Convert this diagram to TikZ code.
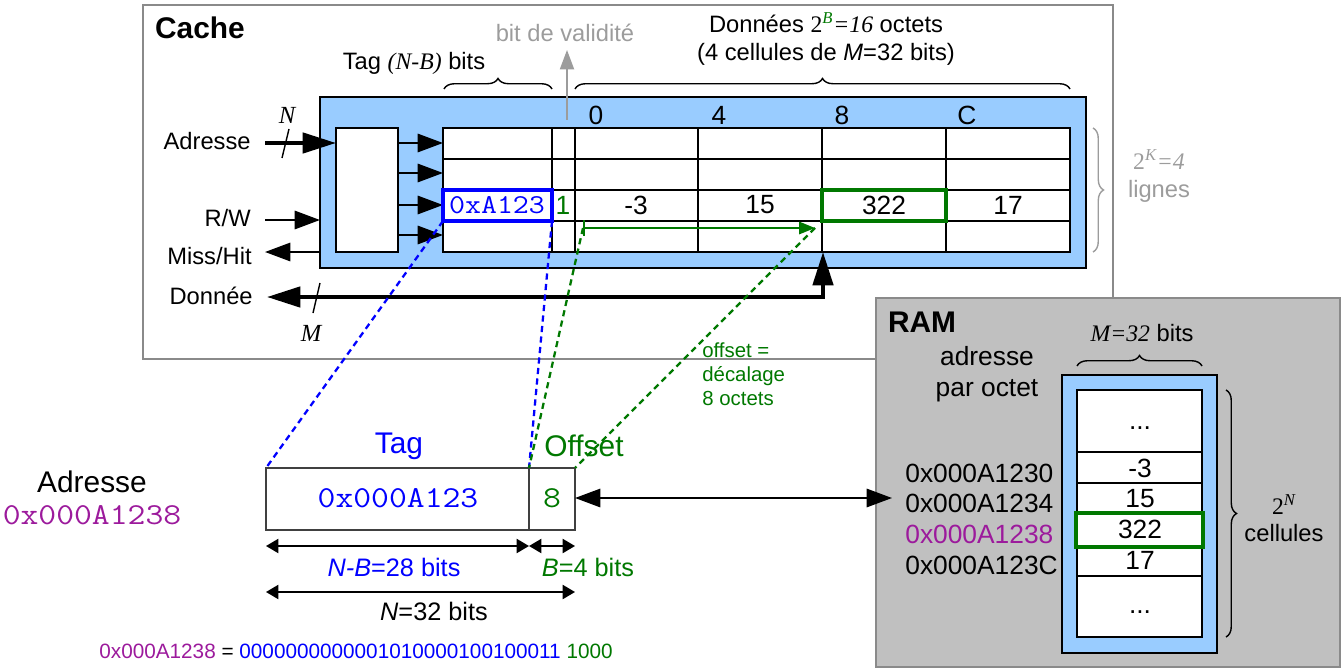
\documentclass[tikz,border=0pt]{standalone}
\usepackage{fontspec}
\setmainfont{Liberation Sans}
\setmonofont{Latin Modern Mono}[FakeStretch=1.14]
\newfontfamily\timesfont{Liberation Serif}
\usetikzlibrary{arrows.meta, positioning, decorations.pathreplacing}
\definecolor{cacheblue}{HTML}{99CCFF}
\definecolor{ramgray}{HTML}{C0C0C0}
\definecolor{framegray}{HTML}{8A8A8A}
\definecolor{softgray}{HTML}{9C9C9C}
\definecolor{offgreen}{HTML}{007800}
\definecolor{tagblue}{HTML}{0000FF}
\definecolor{addrpurple}{HTML}{9C1A9C}
\newcommand{\fs}[2]{\fontsize{#1}{#2}\selectfont}
\newcommand{\vi}[1]{{\timesfont\itshape #1}}
\newcommand{\etc}{...}
\tikzset{
  sigtip/.tip={Triangle[length=14.5pt,width=10.5pt]},
  bustip/.tip={Triangle[length=19pt,width=11.5pt]},
  dimtip/.tip={Triangle[length=7pt,width=8pt]},
}

\begin{document}
\begin{tikzpicture}[x=0.02cm, y=-0.02cm]
\tikzstyle{lbl} = [inner sep=0pt, font=\fs{13.5}{15.5}]
\tikzstyle{val} = [inner sep=0pt, font=\fs{15}{17}]
\tikzstyle{big} = [inner sep=0pt, font=\fs{17}{20}]
\tikzstyle{ramtxt} = [inner sep=0pt, font=\fs{15}{17.6}]
\tikzstyle{heading} = [inner sep=0pt, font=\bfseries\fs{17}{20}]
\tikzstyle{hexa} = [inner sep=0pt, font=\ttfamily\fs{17.3}{20}]
\tikzstyle{sig} = [line width=1.1pt]
\tikzstyle{bus} = [line width=2.3pt]
\tikzstyle{dimline} = [dimtip-dimtip, line width=1pt]
\tikzstyle{cell} = [line width=0.6pt]
\tikzstyle{link} = [dash pattern=on 3.5pt off 2.5pt, line width=1.3pt]
\tikzstyle{curly} = [decorate, decoration={brace, amplitude=6pt}, line width=0.8pt]
\useasboundingbox (0,0) rectangle (1342,669);

% cache
\draw[framegray, line width=1.3pt] (143,5) rectangle (1113,359);
\node (cachetitle) [heading] at (200,28) {Cache};
\draw[cell, fill=cacheblue] (320,97) rectangle (1086,268);
\draw[cell, fill=white] (336,128) rectangle (398,252);
\draw[cell, fill=white] (443,128) rectangle (1070,252);
\foreach \y in {159,190,221} \draw[cell] (443,\y) -- (1070,\y);
\foreach \x in {552,575,698,822,946} \draw[cell] (\x,128) -- (\x,252);
\foreach \y [count=\i] in {143,173,205,235} {
  \coordinate (dec\i) at (398,\y);
  \coordinate (row\i) at (443,\y);
  \draw[sig, -sigtip] (dec\i) -- (row\i);
}
\foreach \x/\t [count=\i] in {596/0,719/4,842/8,967/C} \node (col\i) [val] at (\x,115) {\t};

% ligne 3
\node (tagval) [hexa, font=\ttfamily\fs{15.5}{17}, text=tagblue] at (497,205) {0xA123};
\draw[tagblue, line width=2.3pt] (443,190) rectangle (552,221);
\node (vbit) [val, text=offgreen] at (563,205) {1};
\foreach \x/\t [count=\i] in {636/-3,760/15,884/322,1008/17} \node (w\i) [val] at (\x,205) {\t};
\draw[offgreen, line width=2.3pt] (822,190) rectangle (946,221);
\coordinate (offA) at (583,228);
\coordinate (offB) at (815,228);
\draw[offgreen, line width=1.1pt, {Bar[width=9pt]}-{Triangle[length=9pt,width=7pt]}] (offA) -- (offB);

% signaux
\node (adr) [lbl, anchor=east] at (251,141) {Adresse};
\node (rw) [lbl, anchor=east] at (251,218) {R/W};
\node (mh) [lbl, anchor=east] at (252,256) {Miss/Hit};
\node (don) [lbl, anchor=east] at (253,296) {Donnée};
\coordinate (adrA) at (265,143);
\coordinate (adrB) at (336,143);
\draw[bus, -bustip] (adrA) -- (adrB);
\draw[line width=0.8pt] (282,158) -- (289,129);
\node (nwidth) [inner sep=0pt, font=\timesfont\itshape\fs{14}{16}] at (287,115) {N};
\coordinate (rwA) at (265,220);
\coordinate (rwB) at (320,220);
\draw[sig, -sigtip] (rwA) -- (rwB);
\coordinate (mhA) at (320,252);
\coordinate (mhB) at (265,252);
\draw[sig, -sigtip] (mhA) -- (mhB);
\coordinate (donA) at (267,297);
\coordinate (donC) at (823,297);
\coordinate (donT) at (823,252);
\draw[bus, bustip-bustip] (donA) -- (donC) -- (donT);
\draw[line width=0.8pt] (313,313) -- (320,283);
\node (mwidth) [inner sep=0pt, font=\timesfont\itshape\fs{14}{16}] at (311,333) {M};

% accolades et legendes
\coordinate (vA) at (567,120);
\coordinate (vB) at (567,50);
\draw[softgray, line width=1pt, -{Triangle[length=11pt,width=8pt]}] (vA) -- (vB);
\node (valid) [lbl, text=softgray] at (565,33) {bit de validité};
\draw[curly] (444,89) -- (552,89);
\node (taglbl) [lbl] at (414,63) {Tag \vi{(N-B)} bits};
\draw[curly] (575,89) -- (1070,89);
\node (datalbl) [lbl, align=center] at (826,39) {Données {\timesfont 2\textsuperscript{\color{offgreen}\itshape B}\itshape =16} octets\\(4 cellules de \textit{M}=32 bits)};
\draw[curly, softgray] (1093,128) -- (1093,252);
\node (lines) [lbl, align=center, text=softgray] at (1159,176) {{\timesfont 2\textsuperscript{\itshape K}\itshape =4}\\lignes};

% RAM
\draw[framegray, fill=ramgray, line width=1.3pt] (876,298) rectangle (1340,667);
\node (ramtitle) [heading] at (922,322) {RAM};
\draw[curly] (1077,366) -- (1202,366);
\node (ramwidth) [lbl] at (1142,333) {\vi{M=32} bits};
\node (ramaddr) [ramtxt, align=center] at (987,374) {adresse\\par octet};
\draw[cell, fill=cacheblue] (1062,375) rectangle (1217,653);
\draw[cell, fill=white] (1077,390) rectangle (1202,637);
\foreach \y in {452,483,513,547,576} \draw[cell] (1077,\y) -- (1202,\y);
\foreach \y/\t [count=\i] in {428/\etc,468/-3,499/15,529/322,560/17,612/\etc} \node (m\i) [val] at (1140,\y) {\t};
\draw[offgreen, line width=2.3pt] (1076,513) rectangle (1203,547);
\foreach \y/\t [count=\i] in {473/0x000A1230,503/0x000A1234,534/{\color{addrpurple}0x000A1238},565/0x000A123C} \node (a\i) [ramtxt, anchor=west] at (905,\y) {\t};
\draw[curly] (1226,390) -- (1226,637);
\node (cells) [lbl, align=center] at (1284,518) {{\timesfont 2\textsuperscript{\itshape N}}\\cellules};

% adresse decoupee
\node (adrtitle) [big] at (92,482) {Adresse};
\node (adrhex) [hexa, text=addrpurple] at (92,515) {0x000A1238};
\draw[black!75, line width=0.8pt] (266,468) rectangle (575,530);
\draw[black!75, line width=0.8pt] (529,468) -- (529,530);
\node (tagtitle) [big, text=tagblue] at (399,446) {Tag};
\node (offtitle) [big, text=offgreen] at (584,446) {Offset};
\node (tagbits) [hexa, text=tagblue] at (398,498) {0x000A123};
\node (offbits) [hexa, text=offgreen] at (552,498) {8};
\coordinate (offR) at (575,498);
\coordinate (ramL) at (892,498);
\draw[sig, sigtip-sigtip] (offR) -- (ramL);
\draw[dimline] (266,546) -- (529,546);
\draw[dimline] (529,546) -- (575,546);
\node (nbbits) [inner sep=0pt, font=\fs{14.4}{17}, text=tagblue] at (394,567) {\textit{N-B}=28 bits};
\node (bbits) [inner sep=0pt, font=\fs{14.4}{17}, text=offgreen] at (588,567) {\textit{B}=4 bits};
\draw[dimline] (266,592) -- (575,592);
\node (nbits) [inner sep=0pt, font=\fs{14.4}{17}] at (434,611) {\textit{N}=32 bits};
\node (binary) [inner sep=0pt, font=\fs{11.8}{14}] at (356,651) {{\color{addrpurple}0x000A1238} = {\color{tagblue}0000000000001010000100100011} {\color{offgreen}1000}};
\node (shift) [inner sep=0pt, font=\fs{11.6}{13.7}, text=offgreen, align=left, anchor=west] at (702,374) {offset =\\décalage\\8 octets};

% pointilles
\coordinate (tagSW) at (443,221);
\coordinate (tagSE) at (552,221);
\coordinate (boxNW) at (266,468);
\coordinate (boxDiv) at (529,468);
\coordinate (boxNE) at (575,468);
\draw[link, tagblue] (tagSW) -- (boxNW);
\draw[link, tagblue] (tagSE) -- (boxDiv);
\draw[link, offgreen] (offA) -- (boxDiv);
\draw[link, offgreen] (offB) -- (boxNE);
\end{tikzpicture}
\end{document}
